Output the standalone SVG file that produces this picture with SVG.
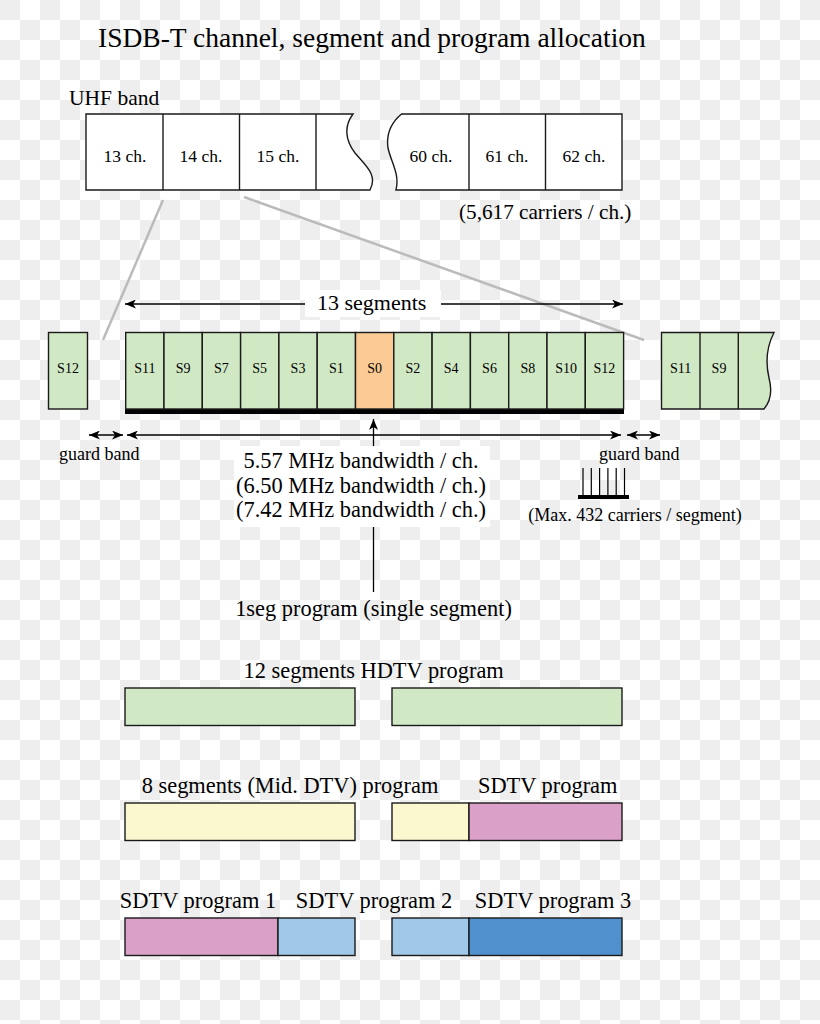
<svg xmlns="http://www.w3.org/2000/svg" width="820" height="1024" viewBox="0 0 820 1024">
<defs>
<pattern id="chk" width="40" height="40" patternUnits="userSpaceOnUse">
<rect width="40" height="40" fill="#ffffff"/>
<rect width="20" height="20" fill="#eeeeee"/>
<rect x="20" y="20" width="20" height="20" fill="#eeeeee"/>
</pattern>
<marker id="ah" viewBox="0 0 11 9" refX="11" refY="4.5" markerWidth="11" markerHeight="9" markerUnits="userSpaceOnUse" orient="auto-start-reverse">
<path d="M0,0 L11,4.5 L0,9 L3,4.5 Z" fill="#000"/>
</marker>
<style>
.t{font-family:"Liberation Serif","Times New Roman",serif;fill:#000}
.m{text-anchor:middle}
.ch{font-size:17.5px;text-anchor:middle}
.sg{font-size:14px;text-anchor:middle}
.big{font-size:22.4px}
.sm{font-size:18px}
.box{stroke:#1a1a1a;stroke-width:1.4}
.w{fill:#ffffff}
.g{fill:#d1e8c5}
.o{fill:#fccb95}
.y{fill:#fbf8d0}
.p{fill:#dba0c8}
.lb{fill:#a0c8e8}
.db{fill:#5090cc}
.arr{stroke:#000;stroke-width:1.3;fill:none}
.gr{stroke:#bbbbbb;stroke-width:2.5;fill:none}
</style>
</defs>
<rect width="820" height="1024" fill="url(#chk)"/>

<g id="title">
<text class="t" x="98" y="47" font-size="27.5">ISDB-T channel, segment and program allocation</text>
</g>

<g id="uhf-band">
<text class="t" x="69" y="105" font-size="21.5">UHF band</text>
<path class="box w" d="M86,114 H353 C344,126 345,140 355,153 C366,166 378,175 370,190 H86 Z"/>
<line class="box" x1="163" y1="114" x2="163" y2="190"/>
<line class="box" x1="239.5" y1="114" x2="239.5" y2="190"/>
<line class="box" x1="316" y1="114" x2="316" y2="190"/>
<path class="box w" d="M401.5,114 H622 V190 H396 C400,174 391,162 388,148 C386,134 392,122 401.5,114 Z"/>
<line class="box" x1="469" y1="114" x2="469" y2="190"/>
<line class="box" x1="545.5" y1="114" x2="545.5" y2="190"/>
<text class="t ch" x="125" y="162">13 ch.</text>
<text class="t ch" x="201" y="162">14 ch.</text>
<text class="t ch" x="278" y="162">15 ch.</text>
<text class="t ch" x="431" y="162">60 ch.</text>
<text class="t ch" x="507" y="162">61 ch.</text>
<text class="t ch" x="584" y="162">62 ch.</text>
<text class="t" x="459" y="219" font-size="21.2">(5,617 carriers / ch.)</text>
</g>

<g id="connectors">
<line class="gr" x1="163" y1="200" x2="103" y2="340"/>
<line class="gr" x1="244" y1="197" x2="644" y2="340"/>
<line class="arr" x1="125" y1="304" x2="623" y2="304" marker-start="url(#ah)" marker-end="url(#ah)"/>
<line class="arr" x1="127" y1="435" x2="621" y2="435" marker-start="url(#ah)" marker-end="url(#ah)"/>
<line class="arr" x1="89" y1="435" x2="123" y2="435" marker-start="url(#ah)" marker-end="url(#ah)"/>
<line class="arr" x1="627" y1="435" x2="660" y2="435" marker-start="url(#ah)" marker-end="url(#ah)"/>
<line class="arr" x1="373.5" y1="592" x2="373.5" y2="419" marker-end="url(#ah)"/>
</g>

<g id="label-13-segments">
<rect x="305" y="290" width="136" height="27" fill="#ffffff"/>
<text class="t" x="317" y="310" font-size="22">13 segments</text>
</g>

<g id="segment-left">
<rect class="box g" x="48.5" y="332.5" width="39" height="76.5"/>
<text class="t sg" x="68" y="373">S12</text>
</g>

<g id="segments-main">
<rect x="125" y="408" width="499" height="6" fill="#000"/>
<rect class="box g" x="125.7" y="332.5" width="38.3" height="76.5"/>
<rect class="box g" x="164" y="332.5" width="38.3" height="76.5"/>
<rect class="box g" x="202.3" y="332.5" width="38.3" height="76.5"/>
<rect class="box g" x="240.6" y="332.5" width="38.3" height="76.5"/>
<rect class="box g" x="278.9" y="332.5" width="38.3" height="76.5"/>
<rect class="box g" x="317.2" y="332.5" width="38.3" height="76.5"/>
<rect class="box o" x="355.5" y="332.5" width="38.3" height="76.5"/>
<rect class="box g" x="393.8" y="332.5" width="38.3" height="76.5"/>
<rect class="box g" x="432.1" y="332.5" width="38.3" height="76.5"/>
<rect class="box g" x="470.4" y="332.5" width="38.3" height="76.5"/>
<rect class="box g" x="508.7" y="332.5" width="38.3" height="76.5"/>
<rect class="box g" x="547" y="332.5" width="38.3" height="76.5"/>
<rect class="box g" x="585.3" y="332.5" width="38.3" height="76.5"/>
<text class="t sg" x="144.8" y="373">S11</text>
<text class="t sg" x="183.1" y="373">S9</text>
<text class="t sg" x="221.4" y="373">S7</text>
<text class="t sg" x="259.7" y="373">S5</text>
<text class="t sg" x="298" y="373">S3</text>
<text class="t sg" x="336.3" y="373">S1</text>
<text class="t sg" x="374.6" y="373">S0</text>
<text class="t sg" x="412.9" y="373">S2</text>
<text class="t sg" x="451.2" y="373">S4</text>
<text class="t sg" x="489.5" y="373">S6</text>
<text class="t sg" x="527.8" y="373">S8</text>
<text class="t sg" x="566.1" y="373">S10</text>
<text class="t sg" x="604.4" y="373">S12</text>
</g>

<g id="segments-right">
<path class="box g" d="M661.5,332.5 H774 C766,348 766,365 769,378 C773,393 770,402 764,409 H661.5 Z"/>
<line class="box" x1="700" y1="332.5" x2="700" y2="409"/>
<line class="box" x1="738.3" y1="332.5" x2="738.3" y2="409"/>
<text class="t sg" x="680.7" y="373">S11</text>
<text class="t sg" x="719" y="373">S9</text>
</g>

<g id="guard-bands">
<text class="t sm" x="59" y="460">guard band</text>
<text class="t sm" x="599" y="460">guard band</text>
</g>

<g id="bandwidth">
<rect x="234" y="446" width="256" height="81" fill="#ffffff"/>
<text class="t big m" x="361" y="468">5.57 MHz bandwidth / ch.</text>
<text class="t big m" x="361" y="492.5">(6.50 MHz bandwidth / ch.)</text>
<text class="t big m" x="361" y="517">(7.42 MHz bandwidth / ch.)</text>
</g>

<g id="carriers">
<g stroke="#000" stroke-width="1.2">
<line x1="583" y1="468" x2="583" y2="496"/>
<line x1="591.3" y1="468" x2="591.3" y2="496"/>
<line x1="599.6" y1="468" x2="599.6" y2="496"/>
<line x1="607.9" y1="468" x2="607.9" y2="496"/>
<line x1="616.2" y1="468" x2="616.2" y2="496"/>
<line x1="624.5" y1="468" x2="624.5" y2="496"/>
</g>
<rect x="578" y="495" width="51" height="4" fill="#000"/>
<text class="t sm m" x="635" y="521">(Max. 432 carriers / segment)</text>
</g>

<g id="oneseg">
<text class="t big m" x="373.5" y="616">1seg program (single segment)</text>
</g>

<g id="hdtv">
<text class="t big m" x="373.7" y="678">12 segments HDTV program</text>
<rect class="box g" x="125" y="688" width="230" height="37.5"/>
<rect class="box g" x="392" y="688" width="230" height="37.5"/>
</g>

<g id="mid-dtv">
<text class="t big m" x="290" y="793">8 segments (Mid. DTV) program</text>
<text class="t big m" x="547.7" y="793">SDTV program</text>
<rect class="box y" x="125" y="803" width="230" height="37.5"/>
<rect class="box y" x="392" y="803" width="77" height="37.5"/>
<rect class="box p" x="469" y="803" width="153" height="37.5"/>
</g>

<g id="sdtv3">
<text class="t big m" x="198" y="908">SDTV program 1</text>
<text class="t big m" x="374" y="908">SDTV program 2</text>
<text class="t big m" x="553" y="908">SDTV program 3</text>
<rect class="box p" x="125" y="918" width="153" height="37.5"/>
<rect class="box lb" x="278" y="918" width="77" height="37.5"/>
<rect class="box lb" x="392" y="918" width="77" height="37.5"/>
<rect class="box db" x="469" y="918" width="153" height="37.5"/>
</g>
</svg>
